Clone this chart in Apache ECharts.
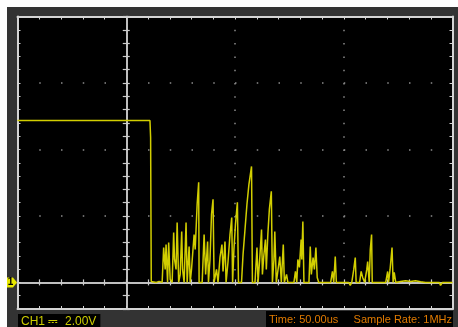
<!DOCTYPE html>
<html><head><meta charset="utf-8">
<script src="https://cdn.jsdelivr.net/npm/echarts@6/dist/echarts.min.js"></script>
<style>
html,body{margin:0;padding:0;background:#fff;width:458px;height:327px;overflow:hidden}
#c{position:absolute;left:7px;top:7px;width:451px;height:320px}
</style></head><body><div id="c"></div>
<script>
// time axis (µs) and voltage axis (V)
const timeRange = [-50, 150];
const voltRange = [-0.8, 8];
const timeMajor = 50, timeMinor = 10;
const voltMajor = 2, voltMinor = 0.4;
const channelLabel = 'CH1 \u2393  2.00V';
const timeLabel = 'Time: 50.00us';
const rateLabel = 'Sample Rate: 1MHz';
const groundMarker = '1';
// trace: [time µs, volts]
const trace = [
 [-50,4.87],[10.9,4.87],[11.2,4.36],[11.5,0.03],[13.8,0],[15.1,0.03],[16.5,0],
 [17.2,1.05],[17.9,0.39],[18.3,1.14],[19.0,0],[19.5,1.20],[20.2,0.09],[21.1,0],
 [21.8,1.50],[22.2,0.69],[22.9,0.39],[23.4,1.80],[24.1,0],[24.8,0.24],[25.5,1.53],
 [25.9,0.39],[26.6,0],[27.5,1.80],[28.0,0],[28.9,1.08],[29.4,0],[30.0,0.39],
 [31.2,1.44],[31.7,0.99],[32.6,2.35],[33.3,3.01],[33.5,0],[34.9,0],[35.8,1.44],
 [36.5,0.24],[37.4,1.23],[37.8,0],[38.5,0.69],[39.2,2.05],[39.9,2.50],[40.4,0],
 [41.5,0.39],[42.2,0],[43.1,0.75],[44.0,1.14],[44.5,0.33],[45.4,1.23],[45.9,0],
 [46.8,0.63],[47.7,1.44],[48.5,1.95],[48.9,0],[49.5,0.99],[50.2,1.74],[51.1,2.41],
 [51.6,0],[53.0,0],[53.7,0.84],[54.6,1.59],[55.5,2.35],[56.4,2.95],[57.6,3.49],
 [58.0,0],[59.2,0],[60.1,1.05],[60.6,0],[61.5,0.84],[62.2,1.59],[62.6,0.24],
 [63.3,0.84],[64.0,1.29],[64.4,0.39],[65.1,1.44],[65.8,2.20],[66.7,2.74],[67.2,0],
 [67.9,0.69],[68.3,1.53],[69.0,0],[70.6,0.78],[71.3,0],[72.2,1.14],[72.7,0],
 [73.7,0.24],[74.3,0],[77.1,0],[77.8,0.33],[78.4,0],[78.9,0.69],[79.6,0.45],
 [80.4,1.29],[80.7,0.69],[81.2,1.83],[81.7,0],[84.0,0],[84.6,1.08],[85.1,0.24],
 [85.9,0.75],[86.5,0.39],[87.2,1.05],[87.8,0.15],[88.5,0],[94.0,0],[94.8,0.33],
 [95.4,0],[96.1,0.78],[96.6,0],[102.3,0],[103.0,-0.09],[103.7,0],[104.6,0.39],
 [105.3,0.75],[105.7,0],[107.3,0],[108.0,0.33],[108.7,0.15],[109.6,0],[110.6,0.39],
 [111.0,0.63],[111.7,0],[112.2,0.99],[112.8,1.44],[113.1,0],[119.3,0],[120.2,0.33],
 [120.6,0],[121.3,0.39],[122.2,1.05],[122.7,0],[123.2,0.30],[123.9,0],[126.1,0.03],
 [128.4,0.05],[130.7,0.03],[133.0,0.05],[135.3,0.02],[137.6,0],[144.0,0],
 [144.5,-0.09],[145.4,0],[150,0]
];

const borderColor = '#d4d4d4';
const centerColor = '#cccccc';
const dotColor = '#8a8a8a';
const G0 = {left:10.5, top:9.5, width:435, height:292.5};
const gridMajorHeight = G0.height * (voltRange[1] - 0) / (voltRange[1] - voltRange[0]);

function borderX(pos){
  return {gridIndex:0,type:'value',min:timeRange[0],max:timeRange[1],interval:timeMinor,position:pos,
    axisLine:{show:true,onZero:false,lineStyle:{color:borderColor,width:2}},
    axisTick:{show:true,inside:true,length:3,lineStyle:{color:borderColor,width:1}},
    axisLabel:{show:false},splitLine:{show:false}};
}
function borderY(pos){
  return {gridIndex:0,type:'value',min:voltRange[0],max:voltRange[1],interval:voltMinor,position:pos,
    axisLine:{show:true,onZero:false,lineStyle:{color:borderColor,width:2}},
    axisTick:{show:true,inside:true,length:3,lineStyle:{color:borderColor,width:1}},
    axisLabel:{show:false},splitLine:{show:false}};
}
function centerX(inside){
  return {gridIndex:0,type:'value',min:timeRange[0],max:timeRange[1],interval:timeMinor,position:'bottom',
    axisLine:{show:true,onZero:true,onZeroAxisIndex:0,lineStyle:{color:centerColor,width:1.5}},
    axisTick:{show:true,inside:inside,length:3,lineStyle:{color:centerColor,width:1.2}},
    axisLabel:{show:false},splitLine:{show:false}};
}
function centerY(inside){
  return {gridIndex:0,type:'value',min:voltRange[0],max:voltRange[1],interval:voltMinor,position:'left',
    axisLine:{show:true,onZero:true,onZeroAxisIndex:0,lineStyle:{color:centerColor,width:1.5}},
    axisTick:{show:true,inside:inside,length:3.5,lineStyle:{color:centerColor,width:1.2}},
    axisLabel:{show:false},splitLine:{show:false}};
}
const minorX = G0.width / ((timeRange[1]-timeRange[0])/timeMinor);
const minorY = gridMajorHeight / (voltRange[1]/voltMinor);

const chart = echarts.init(document.getElementById('c'));
chart.setOption({
  backgroundColor:'#333333',
  animation:false,
  grid:[
    Object.assign({show:true,backgroundColor:'#000',borderWidth:0},G0),
    {left:G0.left,top:G0.top,width:G0.width,height:gridMajorHeight,show:false}
  ],
  title:[
    {text:channelLabel,left:11,top:307,padding:[2,4,1,3],backgroundColor:'#000',
     textStyle:{color:'#cccc00',fontSize:12,fontWeight:'normal',fontFamily:'Liberation Sans'}},
    {text:timeLabel+'     '+rateLabel,right:5,top:304,padding:[3,1,2,3],backgroundColor:'#000',
     textStyle:{color:'#e07a00',fontSize:11,fontWeight:'normal',fontFamily:'Liberation Sans'}}
  ],
  xAxis:[
    borderX('bottom'), borderX('top'), centerX(true), centerX(false),
    {gridIndex:1,type:'value',min:timeRange[0],max:timeRange[1],interval:timeMajor,
     axisLine:{show:false},axisTick:{show:false},axisLabel:{show:false},
     splitLine:{show:true,lineStyle:{color:dotColor,width:1.5,type:[1.5,minorY-1.5]}}}
  ],
  yAxis:[
    borderY('left'), borderY('right'), centerY(true), centerY(false),
    {gridIndex:1,type:'value',min:0,max:voltRange[1],interval:voltMajor,
     axisLine:{show:false},axisTick:{show:false},axisLabel:{show:false},
     splitLine:{show:true,lineStyle:{color:dotColor,width:1.5,type:[1.5,minorX-1.5]}}}
  ],
  series:[{
    type:'line',xAxisIndex:0,yAxisIndex:0,data:trace,showSymbol:false,clip:false,z:5,
    lineStyle:{color:'#d2ce00',width:1.5},
    markPoint:{
      symbol:'path://M0,0 L7,0 L11,5 L7,10 L0,10 Z',symbolSize:[11,10],symbolOffset:[-6,0],
      itemStyle:{color:'#e8e800'},
      label:{show:true,formatter:groundMarker,color:'#000',fontSize:10,fontWeight:'bold',offset:[-1,0]},
      data:[{coord:[timeRange[0],0]}]
    }
  }]
});
</script></body></html>
